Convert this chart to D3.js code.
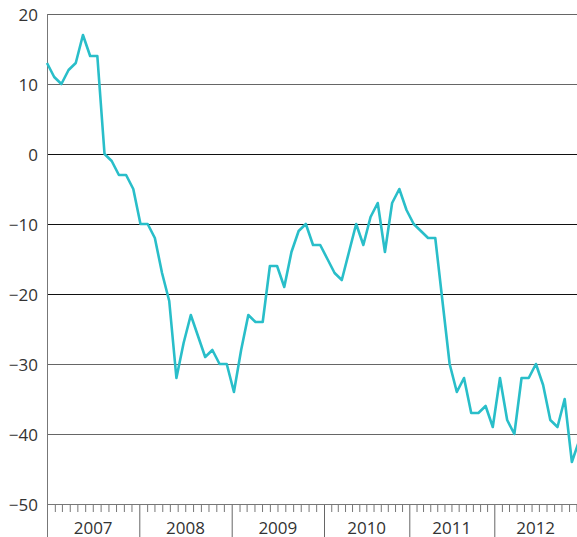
<!DOCTYPE html>
<html>
<head>
<meta charset="utf-8">
<script src="https://cdn.jsdelivr.net/npm/d3@7"></script>
<style>
  body { margin: 0; background: #fff; }
  svg { display: block; }
  text { font-family: "Open Sans", sans-serif; fill: #333; }
</style>
</head>
<body>
<svg id="chart" width="577" height="537"></svg>
<script>
// Monthly index values, starting January 2007
const values = [
  13, 11, 10, 12, 13, 17, 14, 14, 0, -1, -3, -3,
  -5, -10, -10, -12, -17, -21, -32, -27, -23, -26, -29, -28,
  -30, -30, -34, -28, -23, -24, -24, -16, -16, -19, -14, -11,
  -10, -13, -13, -15, -17, -18, -14, -10, -13, -9, -7, -14,
  -7, -5, -8, -10, -11, -12, -12, -21, -30, -34, -32, -37,
  -37, -36, -39, -32, -38, -40, -32, -32, -30, -33, -38, -39,
  -35, -44, -41
];
const years = [2007, 2008, 2009, 2010, 2011, 2012];
const yTicks = [-50, -40, -30, -20, -10, 0, 10, 20];

const svg = d3.select("#chart");
const W = 577, H = 537;
const plotLeft = 47, plotTop = 14, plotBottom = 504;

const y = d3.scaleLinear().domain([-50, 20]).range([plotBottom, plotTop]);
const x = d3.scaleLinear().domain([0, values.length - 1])
  .range([plotLeft, plotLeft + 7.19 * (values.length - 1)]);

// calendar axis: one segment per year
const yearStarts = years.concat([years[years.length - 1] + 1]).map(yr => new Date(yr, 0, 1));
const xt = d3.scaleTime().domain(yearStarts).range([47, 139.3, 231.7, 324, 409.3, 494.3, 584]);

// horizontal gridlines
const darkLines = new Set([0, -10, -20]);
svg.append("g").selectAll("line")
  .data(yTicks.filter(v => v > -50))
  .join("line")
  .attr("x1", plotLeft).attr("x2", W)
  .attr("y1", d => Math.round(y(d)) + 0.5).attr("y2", d => Math.round(y(d)) + 0.5)
  .attr("stroke", d => darkLines.has(d) ? "#111" : "#666")
  .attr("stroke-width", 1);

// y labels
svg.append("g").selectAll("text")
  .data(yTicks)
  .join("text")
  .attr("x", 38)
  .attr("y", d => y(d) + 7)
  .attr("text-anchor", "end")
  .attr("font-size", 17)
  .text(d => d < 0 ? "\u2212" + Math.abs(d) : d);

// monthly minor ticks
const months = d3.timeMonth.range(yearStarts[0], yearStarts[yearStarts.length - 1])
  .filter(d => d.getMonth() !== 0);
const minorAxis = d3.axisBottom(xt).tickValues(months).tickSize(8).tickFormat("").tickSizeOuter(0);
const gMinor = svg.append("g").attr("transform", `translate(0,${plotBottom})`).call(minorAxis);
gMinor.select(".domain").remove();
gMinor.selectAll(".tick line").attr("stroke", "#777");

// year separator ticks
const majorAxis = d3.axisBottom(xt).tickValues(yearStarts.slice(0, -1))
  .tickSize(H - plotBottom).tickFormat("").tickSizeOuter(0);
const gMajor = svg.append("g").attr("transform", `translate(0,${plotBottom})`).call(majorAxis);
gMajor.select(".domain").remove();
gMajor.selectAll(".tick line").attr("stroke", "#666");

// bottom axis line and left axis line
svg.append("line").attr("x1", plotLeft).attr("x2", W)
  .attr("y1", plotBottom + 0.5).attr("y2", plotBottom + 0.5).attr("stroke", "#777");
svg.append("line").attr("x1", plotLeft + 0.5).attr("x2", plotLeft + 0.5)
  .attr("y1", plotTop).attr("y2", H).attr("stroke", "#777");

// year labels centred in each visible year segment
svg.append("g").selectAll("text")
  .data(years)
  .join("text")
  .attr("x", (d, i) => (xt(yearStarts[i]) + Math.min(xt(yearStarts[i + 1]), W)) / 2)
  .attr("y", 534)
  .attr("text-anchor", "middle")
  .attr("font-size", 17)
  .text(d => d);

// series line
const line = d3.line().x((d, i) => x(i)).y(d => y(d));
svg.append("path")
  .datum(values)
  .attr("d", line)
  .attr("fill", "none")
  .attr("stroke", "#29bec9")
  .attr("stroke-width", 2.6)
  .attr("stroke-linejoin", "round");
</script>
</body>
</html>
